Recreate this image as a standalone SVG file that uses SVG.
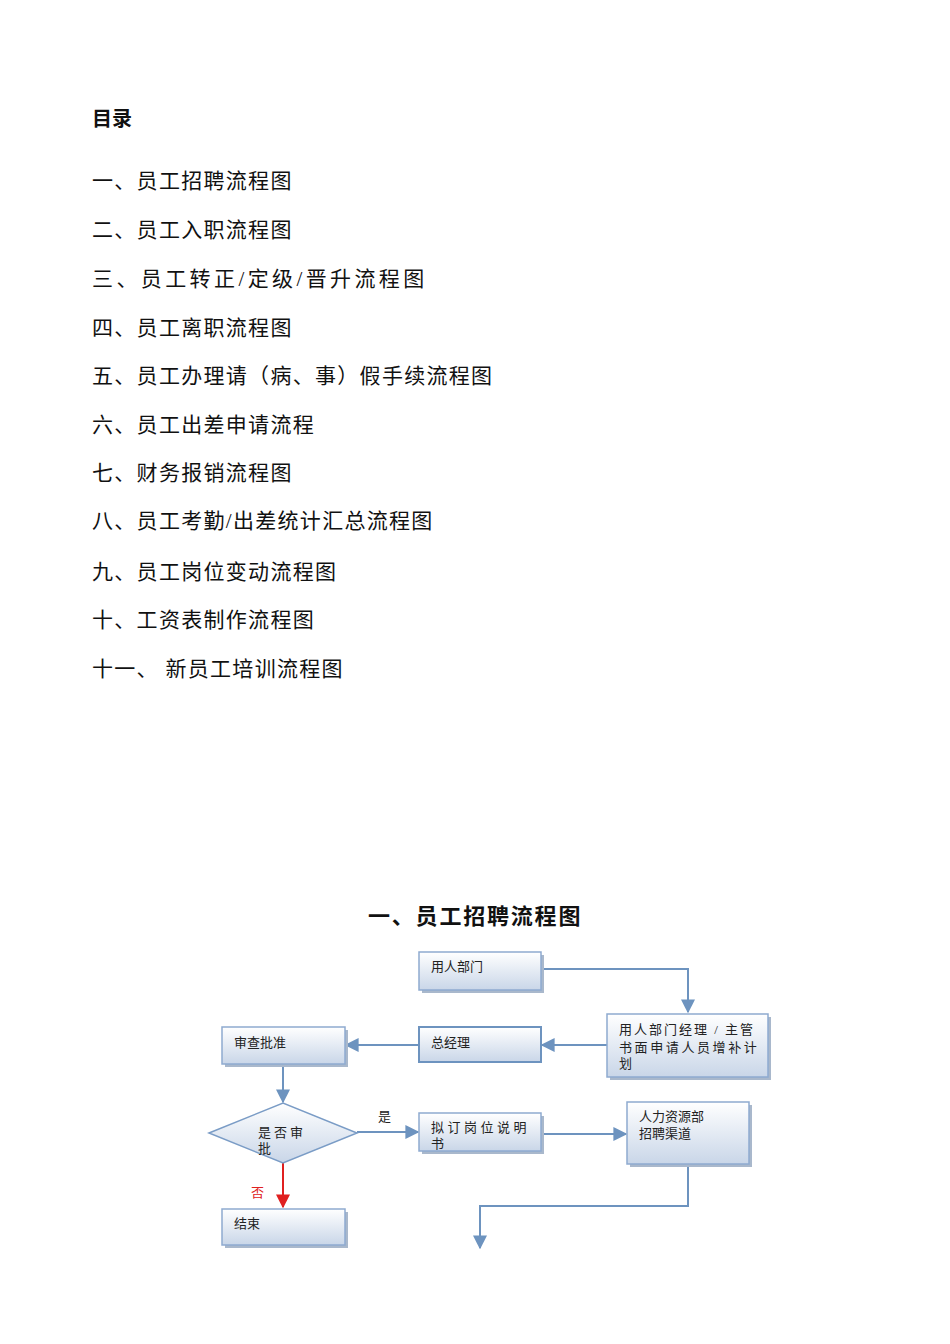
<svg xmlns="http://www.w3.org/2000/svg" width="950" height="1344" viewBox="0 0 950 1344">
<defs>
<linearGradient id="g" x1="0" y1="0" x2="0" y2="1"><stop offset="0" stop-color="#ffffff"/><stop offset="1" stop-color="#c9d6e8"/></linearGradient>
<marker id="a" viewBox="0 0 10 10" refX="9" refY="5" markerWidth="7" markerHeight="7" orient="auto"><path d="M0,0L10,5L0,10z" fill="#6d93bf"/></marker>
<marker id="r" viewBox="0 0 10 10" refX="9" refY="5" markerWidth="7" markerHeight="7" orient="auto"><path d="M0,0L10,5L0,10z" fill="#e02020"/></marker>
</defs>
<style>
text{font-family:"Liberation Serif","Noto Sans CJK SC",serif;fill:#111}
.toc{font-size:21px;letter-spacing:1.3px}
.n{font-size:13px;fill:#222}
.b{fill:url(#g);stroke:#8eaad0;stroke-width:1.5}
.s{fill:#a9b8cc}
.c{fill:none;stroke:#6d93bf;stroke-width:2}
</style>
<rect width="950" height="1344" fill="#fff"/>
<text x="92" y="126" font-size="20" font-weight="bold">目录</text>
<text class="toc" x="92" y="188">一、员工招聘流程图</text>
<text class="toc" x="92" y="237">二、员工入职流程图</text>
<text class="toc" x="92" y="286" style="letter-spacing:3.4px">三、员工转正/定级/晋升流程图</text>
<text class="toc" x="92" y="335">四、员工离职流程图</text>
<text class="toc" x="92" y="383">五、员工办理请（病、事）假手续流程图</text>
<text class="toc" x="92" y="432">六、员工出差申请流程</text>
<text class="toc" x="92" y="480">七、财务报销流程图</text>
<text class="toc" x="92" y="528">八、员工考勤/出差统计汇总流程图</text>
<text class="toc" x="92" y="579">九、员工岗位变动流程图</text>
<text class="toc" x="92" y="627">十、工资表制作流程图</text>
<text class="toc" x="92" y="676">十一、 新员工培训流程图</text>
<text x="368" y="924" font-size="22" font-weight="bold" letter-spacing="1.8">一、员工招聘流程图</text>
<g id="connectors">
<polyline class="c" points="541,969 688,969 688,1012" marker-end="url(#a)"/>
<line class="c" x1="607" y1="1045" x2="542" y2="1045" marker-end="url(#a)"/>
<line class="c" x1="419" y1="1045" x2="346" y2="1045" marker-end="url(#a)"/>
<line class="c" x1="283" y1="1065" x2="283" y2="1102" marker-end="url(#a)"/>
<line class="c" x1="357" y1="1132" x2="418" y2="1132" marker-end="url(#a)"/>
<line class="c" x1="542" y1="1134" x2="626" y2="1134" marker-end="url(#a)"/>
<line x1="283" y1="1163" x2="283" y2="1207" stroke="#e02020" stroke-width="2" marker-end="url(#r)"/>
<polyline class="c" points="688,1165 688,1206 480,1206 480,1248" marker-end="url(#a)"/>
<text x="378" y="1121" class="n">是</text>
<text x="251" y="1197" class="n" style="fill:#e02020">否</text>
</g>
<g id="n1"><rect class="s" x="422" y="955" width="122" height="38"/><rect class="b" x="419" y="952" width="122" height="38"/><text class="n" x="431" y="971">用人部门</text></g>
<g id="n2"><rect class="s" x="610" y="1017" width="161" height="63"/><rect class="b" x="607" y="1014" width="161" height="63"/><text class="n" x="619" y="1034" letter-spacing="2">用人部门经理 / 主管</text><text class="n" x="619" y="1052" letter-spacing="2.6">书面申请人员增补计</text><text class="n" x="619" y="1068">划</text></g>
<g id="n3"><rect class="b" x="419" y="1027" width="122" height="35" style="stroke:#6d93bf;stroke-width:2"/><text class="n" x="431" y="1047">总经理</text></g>
<g id="n4"><rect class="s" x="225" y="1030" width="123" height="37"/><rect class="b" x="222" y="1027" width="123" height="37"/><text class="n" x="234" y="1047">审查批准</text></g>
<g id="n5"><polygon points="209,1133 283,1103 357,1133 283,1163" fill="url(#g)" stroke="#7a9cc6" stroke-width="1.5"/><text class="n" x="258" y="1137" letter-spacing="3">是否审</text><text class="n" x="258" y="1153">批</text></g>
<g id="n6"><rect class="s" x="422" y="1116" width="122" height="38"/><rect class="b" x="419" y="1113" width="122" height="38"/><text class="n" x="431" y="1132" letter-spacing="3.5">拟订岗位说明</text><text class="n" x="431" y="1148">书</text></g>
<g id="n7"><rect class="s" x="630" y="1105" width="122" height="62"/><rect class="b" x="627" y="1102" width="122" height="62"/><text class="n" x="639" y="1121">人力资源部</text><text class="n" x="639" y="1138">招聘渠道</text></g>
<g id="n8"><rect class="s" x="225" y="1212" width="123" height="36"/><rect class="b" x="222" y="1209" width="123" height="36"/><text class="n" x="234" y="1228">结束</text></g>
</svg>
